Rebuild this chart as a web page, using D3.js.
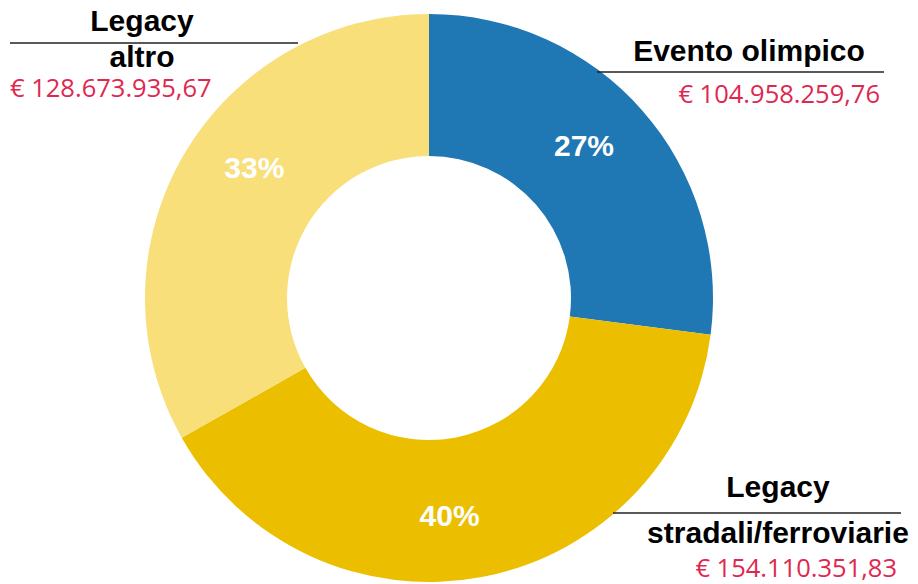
<!DOCTYPE html>
<html lang="it">
<head>
  <meta charset="UTF-8">
  <title>Ripartizione spesa</title>
  <script src="https://d3js.org/d3.v7.min.js"></script>
  <style>
    body { margin: 0; background: #fff; }
    .title { font-family: "Liberation Sans", Arial, sans-serif; font-weight: bold; font-size: 30px; fill: #000; }
    .amount { font-family: "Open Sans", "Noto Sans", sans-serif; font-size: 25.5px; fill: #de2850; }
    .pct { font-family: "Liberation Sans", Arial, sans-serif; font-weight: bold; font-size: 30px; fill: #fff; }
  </style>
</head>
<body>
  <svg width="918" height="584"></svg>

  <script>
    // data
    const titles = ["Evento olimpico", "Legacy", "Legacy"];
    const subtitles = ["", "stradali/ferroviarie", "altro"];
    const amounts = [104958259.76, 154110351.83, 128673935.67];
    const colors = ["#1f77b4", "#ebbf00", "#f8df7a"];

    const cx = 429, cy = 298;
    const outerR = 284, innerR = 142;

    const it = d3.formatLocale({ decimal: ",", thousands: ".", grouping: [3], currency: ["€ ", ""] });
    const euro = it.format("$,.2f");
    const pct = d3.format(".0%");

    const total = d3.sum(amounts);
    const slices = amounts.map((v, i) => ({ i, value: v }));

    const svg = d3.select("svg");
    const g = svg.append("g").attr("transform", "translate(" + cx + "," + cy + ")");

    const pie = d3.pie().value(d => d.value).sort(null);
    const arc = d3.arc().innerRadius(innerR).outerRadius(outerR);
    const labelArc = d3.arc().innerRadius(218).outerRadius(218);

    const arcs = pie(slices);

    g.selectAll("path")
      .data(arcs)
      .enter()
      .append("path")
      .attr("d", arc)
      .attr("fill", d => colors[d.data.i]);

    // small rotation of each percent label (degrees), like the original
    const labelTurn = [-3.4, 5.6, 6.5];
    const rad = Math.PI / 180;

    g.selectAll("text.pct")
      .data(arcs)
      .enter()
      .append("text")
      .attr("class", "pct")
      .attr("text-anchor", "middle")
      .attr("dy", "0.36em")
      .attr("transform", d => {
        const t = labelTurn[d.data.i] * rad;
        const p = labelArc.centroid({ startAngle: d.startAngle + t, endAngle: d.endAngle + t });
        return "translate(" + p + ")";
      })
      .text(d => pct(d.data.value / total));

    // callout boxes: line, title above, subtitle below, amount
    const callouts = [
      { x0: 597, x1: 884, lineY: 72, titleX: 749, titleY: 61, subY: null, amtX: 880, amtY: 103, amtAnchor: "end" },
      { x0: 613, x1: 901, lineY: 513, titleX: 778, titleY: 497, subY: 543, amtX: 897, amtY: 577, amtAnchor: "end" },
      { x0: 10, x1: 298, lineY: 43, titleX: 142, titleY: 31, subY: 67, amtX: 10, amtY: 97, amtAnchor: "start" }
    ];

    callouts.forEach((c, i) => {
      const box = svg.append("g");
      box.append("line")
        .attr("x1", c.x0).attr("x2", c.x1)
        .attr("y1", c.lineY).attr("y2", c.lineY)
        .attr("stroke", "#222").attr("stroke-width", 1.5);
      box.append("text")
        .attr("class", "title")
        .attr("text-anchor", "middle")
        .attr("x", c.titleX).attr("y", c.titleY)
        .text(titles[i]);
      if (subtitles[i]) {
        box.append("text")
          .attr("class", "title")
          .attr("text-anchor", "middle")
          .attr("x", c.titleX).attr("y", c.subY)
          .text(subtitles[i]);
      }
      box.append("text")
        .attr("class", "amount")
        .attr("text-anchor", c.amtAnchor)
        .attr("x", c.amtX).attr("y", c.amtY)
        .text(euro(amounts[i]));
    });
  </script>
</body>
</html>
